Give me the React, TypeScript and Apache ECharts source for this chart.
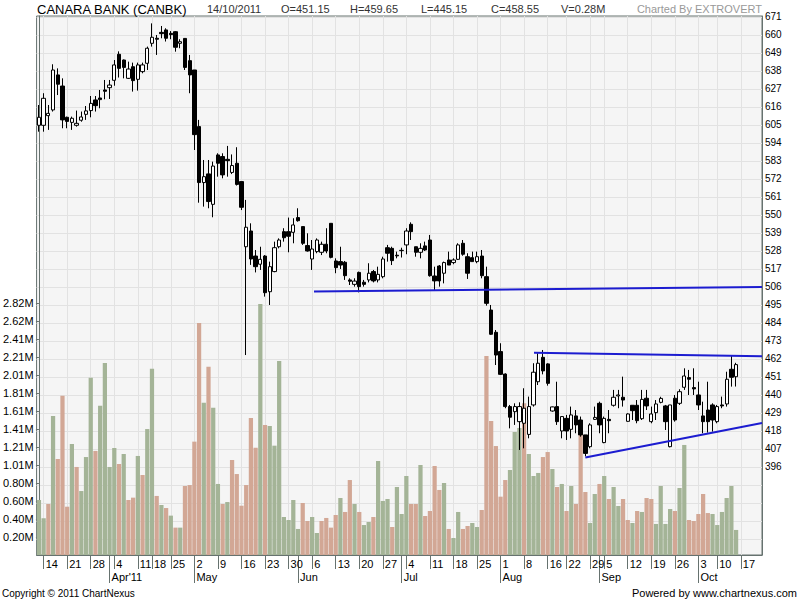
import React, { useEffect, useRef } from "react";
import * as echarts from "echarts";

// ---- calendar (NSE trading days, 2011) ----
const year = 2011;
const months = [3, 4, 5, 6, 7, 8, 9, 10];
const tradingDays: number[][] = [
  [11, 14, 15, 16, 17, 18, 21, 22, 23, 24, 25, 28, 29, 30, 31],
  [1, 4, 5, 6, 7, 8, 11, 13, 15, 18, 19, 20, 21, 25, 26, 27, 28, 29],
  [2, 3, 4, 5, 6, 9, 10, 11, 12, 13, 16, 17, 18, 19, 20, 23, 24, 25, 26, 27, 30, 31],
  [1, 2, 3, 6, 7, 8, 9, 10, 13, 14, 15, 16, 17, 20, 21, 22, 23, 24, 27, 28, 29, 30],
  [1, 4, 5, 6, 7, 8, 11, 12, 13, 14, 15, 18, 19, 20, 21, 22, 25, 26, 27, 28, 29],
  [1, 2, 3, 4, 5, 8, 9, 10, 11, 12, 16, 17, 18, 19, 22, 23, 24, 25, 26, 29, 30],
  [2, 5, 6, 7, 8, 9, 12, 13, 14, 15, 16, 19, 20, 21, 22, 23, 26, 27, 28, 29, 30],
  [3, 4, 5, 7, 10, 11, 12, 13, 14, 17, 18, 19, 20, 21],
];
const monthTickLabels = ["Mar", "Apr'11", "May", "Jun", "Jul", "Aug", "Sep", "Oct"];

// ---- prices ----
const opens = [
  604.8, 604.8, 610.7, 614.2, 635.6, 628.8, 609.7, 606.6, 604.8, 607.9,
  611.5, 613.8, 620.3, 621.5, 626.4, 627.8, 632.3, 648.2, 644.7, 633.5,
  640.6, 632.9, 637.6, 642.7, 654.9, 658.0, 661.6, 663.1, 661.0, 662.0,
  654.9, 657.9, 644.3, 638.6, 604.0, 569.8, 575.1, 556.5, 586.7, 585.7,
  584.0, 576.0, 581.6, 570.4, 530.6, 540.2, 524.9, 519.9, 524.9, 503.1,
  515.4, 530.6, 539.8, 539.8, 539.4, 548.4, 542.9, 531.3, 523.1, 527.6,
  527.2, 532.1, 544.9, 521.9, 521.5, 521.1, 510.3, 507.6, 514.9, 508.9,
  510.3, 515.4, 510.3, 512.3, 530.0, 529.6, 525.4, 528.2, 531.7, 544.3,
  530.6, 527.2, 531.1, 534.7, 512.7, 518.8, 514.4, 522.5, 520.9, 522.9,
  532.7, 524.5, 523.9, 521.5, 524.9, 512.3, 491.9, 478.3, 466.5, 452.8,
  432.9, 429.8, 423.7, 422.7, 415.9, 433.9, 448.1, 463.0, 459.0, 430.2,
  432.9, 418.0, 425.7, 419.0, 427.2, 424.7, 415.6, 408.4, 425.1, 434.9,
  410.9, 425.1, 433.7, 439.4, 438.6, 423.9, 433.7, 433.7, 425.5, 438.0,
  423.7, 429.2, 435.5, 433.3, 408.4, 438.0, 434.9, 444.7, 450.6, 444.5,
  440.0, 427.2, 430.8, 433.9, 423.7, 433.9, 434.5, 455.7, 451.15,
];
const highs = [
  617.2, 624.4, 617.2, 642.1, 639.6, 633.5, 610.1, 610.1, 613.8, 613.2,
  616.6, 622.7, 622.7, 626.4, 632.5, 632.5, 644.7, 650.0, 645.0, 643.7,
  643.1, 643.1, 643.1, 652.9, 667.1, 660.0, 665.5, 664.1, 662.4, 662.4,
  657.4, 658.0, 647.8, 638.6, 608.1, 583.6, 583.6, 582.6, 587.7, 587.7,
  592.2, 587.0, 591.4, 570.4, 559.2, 544.9, 528.6, 530.6, 525.5, 521.5,
  533.7, 535.7, 541.9, 548.4, 548.0, 554.1, 542.9, 538.8, 534.7, 535.7,
  533.7, 541.9, 544.9, 523.5, 530.6, 521.9, 511.3, 511.3, 515.4, 510.3,
  520.5, 516.4, 518.4, 524.5, 531.7, 530.6, 527.6, 530.0, 541.9, 545.5,
  530.6, 532.7, 533.7, 537.8, 518.4, 519.4, 521.5, 527.6, 523.5, 532.7,
  534.7, 526.6, 527.6, 527.6, 528.6, 518.4, 495.0, 479.7, 471.6, 453.2,
  433.9, 434.9, 435.5, 444.1, 439.0, 459.4, 465.5, 467.5, 459.4, 432.9,
  448.1, 426.8, 427.8, 432.9, 430.8, 426.8, 415.6, 422.7, 432.9, 435.9,
  426.8, 430.8, 443.1, 443.1, 451.2, 428.8, 433.7, 436.9, 443.1, 443.1,
  432.9, 436.9, 438.9, 433.9, 433.9, 440.0, 443.5, 456.3, 455.3, 456.3,
  448.1, 435.9, 448.1, 434.9, 433.9, 439.0, 454.2, 464.4, 459.65,
];
const lows = [
  600.9, 600.9, 602.0, 613.2, 623.3, 603.0, 603.0, 602.0, 604.0, 607.0,
  608.1, 609.7, 613.2, 615.2, 620.7, 620.9, 629.0, 634.0, 633.5, 633.1,
  625.4, 626.0, 636.6, 638.6, 652.9, 647.8, 658.0, 656.0, 657.4, 649.8,
  651.9, 638.6, 624.4, 589.7, 557.5, 555.1, 554.1, 548.6, 573.4, 572.4,
  573.4, 575.0, 568.0, 553.0, 464.4, 519.5, 514.9, 516.4, 500.1, 495.0,
  515.0, 529.6, 533.7, 527.2, 532.7, 545.9, 531.7, 527.6, 516.4, 526.6,
  525.5, 526.6, 523.5, 514.4, 517.0, 510.3, 507.2, 506.2, 502.7, 506.2,
  508.8, 508.8, 508.8, 511.3, 521.5, 519.4, 523.5, 524.0, 526.0, 534.7,
  524.5, 523.5, 528.0, 512.3, 503.6, 506.2, 508.2, 519.4, 519.9, 522.5,
  525.1, 510.9, 521.5, 520.5, 511.3, 494.6, 476.7, 458.3, 452.2, 431.9,
  419.6, 421.7, 406.4, 407.4, 413.5, 432.9, 446.1, 452.6, 445.7, 429.8,
  421.7, 413.5, 412.5, 413.5, 416.6, 414.5, 402.5, 407.4, 424.7, 416.6,
  410.5, 416.6, 432.9, 431.9, 432.9, 423.7, 424.7, 422.7, 424.7, 430.8,
  422.7, 424.7, 434.9, 418.6, 408.0, 423.7, 433.9, 443.1, 440.0, 440.0,
  430.8, 416.6, 417.0, 417.6, 422.7, 431.9, 432.9, 445.1, 445.15,
];
const closes = [
  609.7, 621.3, 612.1, 638.6, 629.9, 608.1, 607.2, 609.1, 606.0, 609.9,
  613.6, 618.2, 616.8, 620.5, 625.6, 629.4, 641.7, 639.6, 640.2, 639.2,
  632.1, 641.7, 641.7, 651.9, 658.6, 657.4, 660.8, 658.0, 660.2, 652.5,
  655.9, 640.2, 635.6, 599.1, 569.8, 573.4, 558.2, 579.9, 581.6, 574.5,
  583.2, 580.2, 568.7, 554.7, 542.5, 523.1, 518.4, 522.9, 502.5, 518.4,
  530.0, 534.7, 536.1, 537.0, 543.9, 546.5, 532.7, 528.0, 529.2, 534.7,
  532.1, 528.0, 524.1, 517.8, 519.4, 512.9, 509.5, 509.6, 506.2, 507.6,
  514.4, 509.7, 513.7, 523.1, 526.6, 522.1, 525.0, 528.4, 540.2, 539.8,
  527.2, 529.6, 528.6, 512.9, 509.7, 509.7, 520.9, 519.4, 522.5, 531.7,
  526.0, 514.4, 521.5, 524.5, 512.9, 496.0, 477.1, 464.4, 452.6, 432.9,
  426.4, 432.9, 432.9, 431.9, 432.9, 453.9, 459.4, 454.7, 447.1, 432.7,
  423.7, 426.8, 418.0, 427.8, 421.7, 415.6, 404.3, 421.7, 426.3, 421.7,
  425.7, 424.3, 438.6, 440.0, 436.9, 428.4, 430.4, 424.3, 437.3, 433.3,
  428.4, 434.5, 437.9, 423.7, 433.9, 424.7, 442.0, 451.6, 449.6, 443.7,
  433.9, 423.7, 423.7, 424.7, 432.9, 433.3, 449.6, 450.8, 458.55,
];

// ---- volume (millions) ----
const volumes = [
  0.615, 0.41, 0.57, 1.554, 1.073, 1.781, 0.54, 1.241, 0.984, 0.715,
  1.095, 1.982, 1.163, 1.669, 2.146, 0.984, 1.196, 1.017, 1.129, 0.615,
  0.641, 1.107, 0.894, 1.408, 2.083, 0.66, 0.559, 0.525, 0.44, 0.306,
  0.306, 0.771, 0.782, 1.267, 2.593, 1.703, 2.105, 1.647, 0.794, 0.57,
  0.592, 1.062, 0.905, 0.551, 0.782, 1.531, 1.2, 2.806, 1.453, 1.442,
  1.222, 2.169, 0.425, 0.391, 0.615, 0.291, 0.581, 0.38, 0.425, 0.246,
  0.38, 0.414, 0.306, 0.447, 0.637, 0.481, 0.838, 0.57, 0.481, 0.335,
  0.369, 0.425, 1.051, 0.604, 0.626, 0.313, 0.76, 0.458, 0.883, 0.57,
  0.57, 1.006, 0.436, 0.492, 0.995, 0.727, 0.805, 0.291, 0.19, 0.481,
  0.291, 0.324, 0.358, 0.313, 0.503, 2.224, 1.498, 1.218, 0.652, 0.838,
  0.95, 1.375, 1.42, 1.695, 1.129, 0.883, 0.917, 1.095, 1.151, 0.961,
  0.76, 0.794, 0.492, 0.771, 0.57, 1.408, 0.704, 0.358, 0.682, 0.794,
  0.883, 0.626, 0.76, 0.548, 0.626, 0.391, 0.358, 0.492, 0.481, 0.637,
  0.626, 0.347, 0.771, 0.347, 0.514, 0.492, 0.749, 1.23, 0.391, 0.38,
  0.458, 0.682, 0.469, 0.458, 0.335, 0.481, 0.637, 0.771, 0.28,
];
const volumeUp = [
  1, 1, 0, 1, 0, 0, 0, 1, 0, 1,
  1, 1, 0, 1, 1, 1, 1, 0, 1, 0,
  0, 1, 0, 1, 1, 0, 1, 0, 1, 0,
  1, 0, 0, 0, 0, 1, 0, 1, 1, 0,
  1, 0, 0, 0, 0, 0, 0, 1, 0, 1,
  1, 1, 1, 1, 1, 1, 0, 0, 1, 1,
  0, 0, 0, 0, 1, 0, 0, 1, 0, 1,
  1, 0, 1, 1, 1, 0, 1, 1, 1, 0,
  0, 1, 0, 0, 0, 0, 1, 0, 1, 1,
  0, 0, 1, 1, 0, 0, 0, 0, 0, 0,
  1, 1, 1, 0, 1, 1, 1, 0, 0, 1,
  0, 1, 0, 1, 0, 0, 0, 1, 1, 0,
  1, 0, 1, 1, 0, 0, 1, 0, 1, 0,
  0, 1, 1, 1, 1, 0, 1, 1, 0, 0,
  0, 0, 0, 1, 1, 1, 1, 1, 1,
];

// ---- axis ticks ----
const priceTickLabels = [396, 407, 418, 429, 440, 451, 462, 473, 484, 495, 506, 517, 528, 539, 550, 561, 572, 583, 594, 605, 616, 627, 638, 649, 660, 671];
const priceGridValues = [352, 363, 374, 385, 396, 407, 418, 429, 440, 451, 462, 473, 484, 495, 506, 517, 528, 539, 550, 561, 572, 583, 594, 605, 616, 627, 638, 649, 660, 671];
const volumeTickLabels = ["0.20M", "0.40M", "0.60M", "0.80M", "1.01M", "1.21M", "1.41M", "1.61M", "1.81M", "2.01M", "2.21M", "2.41M", "2.62M", "2.82M"];
const volumeStep = 0.2012;

// ---- drawn trend lines: [categoryPosition, price] ----
const supportLine = [[58.4, 503.2], [153.5, 506.0]];
const resistanceLine = [[105.1, 465.8], [153.5, 463.6]];
const risingLine = [[116.0, 401.8], [153.5, 422.9]];

const FONT = "Liberation Sans, Arial, sans-serif";

export default function App() {
  const ref = useRef<HTMLDivElement>(null);
  useEffect(() => {
    if (!ref.current) return;
    const chart = echarts.init(ref.current, undefined, { renderer: "svg" });

    const categories: string[] = [];
    const dayNums: number[] = [];
    const monthOf: number[] = [];
    const dateObjs: Date[] = [];
    months.forEach((m, k) =>
      tradingDays[k].forEach((d) => {
        categories.push(`${year}-${m}-${d}`);
        dayNums.push(d);
        monthOf.push(k);
        dateObjs.push(new Date(year, m - 1, d));
      })
    );
    const mondayKey = (dt: Date) => {
      const off = (dt.getDay() + 6) % 7;
      const mon = new Date(dt.getFullYear(), dt.getMonth(), dt.getDate() - off);
      return mon.getTime();
    };
    const weekStart = categories.map((_, i) => i > 0 && mondayKey(dateObjs[i]) !== mondayKey(dateObjs[i - 1]));
    const monthStart = categories.map((_, i) => i > 0 && monthOf[i] !== monthOf[i - 1]);

    const axisColor = "#66726f";
    const gridColor = "#e2e2e2";
    const upVol = "#a4b497";
    const downVol = "#d2a795";

    const candleData = opens.map((o, i) => [o, closes[i], lows[i], highs[i]]);
    const volData = volumes.map((v, i) => ({ value: v, itemStyle: { color: volumeUp[i] ? upVol : downVol } }));
    const volumeTickValues = volumeTickLabels.map((_, k) => (k + 1) * volumeStep);
    const last = opens.length - 1;

    const trend = (data: number[][]) => ({
      type: "line",
      xAxisIndex: 2,
      yAxisIndex: 1,
      data,
      symbol: "none",
      silent: true,
      z: 10,
      lineStyle: { color: "#1c1cd0", width: 2 },
    });

    const headerItems = [
      { x: 207, text: `${dayNums[last]}/10/${year}` },
      { x: 281, text: `O=${opens[last].toFixed(2)}` },
      { x: 350, text: `H=${highs[last].toFixed(2)}` },
      { x: 421, text: `L=${lows[last].toFixed(2)}` },
      { x: 491, text: `C=${closes[last].toFixed(2)}` },
      { x: 561, text: `V=${volumes[last].toFixed(2)}M` },
    ];

    chart.setOption({
      animation: false,
      backgroundColor: "#ffffff",
      textStyle: { fontFamily: FONT },
      grid: {
        left: 35,
        right: 38,
        top: 16,
        bottom: 45,
        show: true,
        backgroundColor: "#f5f5f5",
        borderColor: axisColor,
        borderWidth: 1,
      },
      xAxis: [
        {
          type: "category",
          data: categories,
          position: "bottom",
          boundaryGap: true,
          axisLine: { show: true, lineStyle: { color: axisColor } },
          axisTick: {
            show: true,
            alignWithLabel: true,
            interval: (i: number) => weekStart[i],
            length: 14,
            lineStyle: { color: axisColor },
          },
          axisLabel: {
            interval: (i: number) => weekStart[i],
            formatter: (_v: string, i: number) => String(dayNums[i]),
            align: "left",
            margin: 3,
            padding: [0, 0, 0, 2],
            fontSize: 11,
            color: "#000",
            fontFamily: FONT,
          },
          splitLine: {
            show: true,
            alignWithLabel: true,
            interval: (i: number) => weekStart[i],
            lineStyle: { color: gridColor, width: 1 },
          },
        },
        {
          type: "category",
          data: categories,
          position: "bottom",
          offset: 0,
          boundaryGap: true,
          axisLine: { show: false },
          axisTick: {
            show: true,
            alignWithLabel: true,
            interval: (i: number) => monthStart[i],
            length: 28,
            lineStyle: { color: axisColor },
          },
          axisLabel: {
            interval: (i: number) => monthStart[i],
            formatter: (_v: string, i: number) => monthTickLabels[monthOf[i]],
            align: "left",
            margin: 16,
            padding: [0, 0, 0, 2],
            fontSize: 11,
            color: "#000",
            fontFamily: FONT,
          },
          splitLine: { show: false },
        },
        {
          type: "value",
          show: false,
          min: -0.5,
          max: categories.length - 0.5,
        },
      ],
      yAxis: [
        {
          type: "value",
          position: "left",
          min: 0,
          max: (539 / 18) * volumeStep,
          axisLine: { show: true, lineStyle: { color: axisColor } },
          axisTick: { show: true, length: 3, customValues: volumeTickValues, lineStyle: { color: axisColor } },
          axisLabel: {
            customValues: volumeTickValues,
            formatter: (v: number) => volumeTickLabels[Math.round(v / volumeStep) - 1] ?? "",
            fontSize: 11,
            color: "#000",
            margin: 3,
            fontFamily: FONT,
          },
          splitLine: { show: false },
        },
        {
          type: "value",
          position: "right",
          min: 342.2,
          max: 671.6,
          axisLine: { show: true, lineStyle: { color: axisColor } },
          axisTick: { show: false, customValues: priceGridValues },
          axisLabel: {
            customValues: priceTickLabels,
            formatter: (v: number) => String(Math.round(v)),
            fontSize: 10,
            color: "#000",
            margin: 3,
            fontFamily: FONT,
          },
          splitLine: { show: true, lineStyle: { color: gridColor, width: 1 } },
        },
      ],
      series: [
        {
          type: "bar",
          xAxisIndex: 0,
          yAxisIndex: 0,
          data: volData,
          barWidth: "90%",
          z: 1,
          silent: true,
        },
        {
          type: "candlestick",
          xAxisIndex: 0,
          yAxisIndex: 1,
          data: candleData,
          barWidth: 3.8,
          z: 5,
          silent: true,
          itemStyle: {
            color: "#ffffff",
            color0: "#000000",
            borderColor: "#000000",
            borderColor0: "#000000",
            borderColorDoji: "#000000",
            borderWidth: 1,
          },
        },
        trend(supportLine),
        trend(resistanceLine),
        trend(risingLine),
      ],
      graphic: {
        elements: [
          {
            type: "text",
            x: 37,
            y: 9,
            style: { text: "CANARA BANK (CANBK)", font: `13px ${FONT}`, fill: "#000", verticalAlign: "middle" },
          },
          ...headerItems.map((h) => ({
            type: "text",
            x: h.x,
            y: 9,
            style: { text: h.text, font: `11px ${FONT}`, fill: "#333", verticalAlign: "middle" },
          })),
          {
            type: "text",
            x: 762,
            y: 9,
            style: { text: "Charted By EXTROVERT", font: `11px ${FONT}`, fill: "#999", align: "right", verticalAlign: "middle" },
          },
          {
            type: "text",
            x: 2,
            y: 593,
            style: { text: "Copyright © 2011 ChartNexus", font: `10px ${FONT}`, fill: "#000", verticalAlign: "middle" },
          },
          {
            type: "text",
            x: 797,
            y: 593,
            style: { text: "Powered by www.chartnexus.com", font: `11px ${FONT}`, fill: "#000", align: "right", verticalAlign: "middle" },
          },
        ],
      },
    });
    return () => chart.dispose();
  }, []);
  return <div ref={ref} style={{ position: "absolute", left: 0, top: 0, width: 800, height: 600 }} />;
}
